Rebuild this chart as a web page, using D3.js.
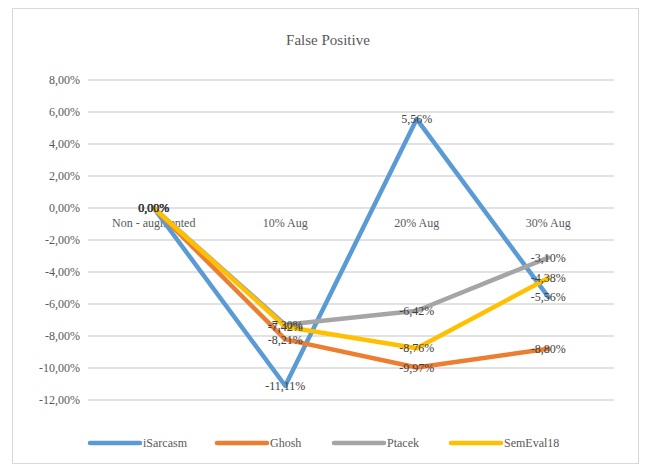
<!DOCTYPE html>
<html>
<head>
<meta charset="utf-8">
<script src="https://cdn.jsdelivr.net/npm/d3@7"></script>
<style>
  body { margin: 0; background: #fff; }
  svg text { font-family: "Times New Roman", "Liberation Serif", "DejaVu Serif", serif !important; }
</style>
</head>
<body>
<svg id="chart" width="646" height="470"></svg>
<script>
const categories = ["Non - augmented", "10% Aug", "20% Aug", "30% Aug"];
const seriesNames = ["iSarcasm", "Ghosh", "Ptacek", "SemEval18"];
const iSarcasm = [0, -11.11, 5.56, -5.56];
const ghosh = [0, -8.21, -9.97, -8.80];
const ptacek = [0, -7.30, -6.42, -3.10];
const semEval18 = [0, -7.42, -8.76, -4.38];
const yTicks = [8, 6, 4, 2, 0, -2, -4, -6, -8, -10, -12];
const colors = ["#5B9BD5", "#ED7D31", "#A5A5A5", "#FFC000"];

const series = [iSarcasm, ghosh, ptacek, semEval18].map((values, i) => ({
    name: seriesNames[i],
    color: colors[i],
    values: values
}));

const svg = d3.select('#chart');
const fmt = v => v.toFixed(2).replace('.', ',') + '%';

// outer frame
svg.append('rect')
    .attr('x', 12.5).attr('y', 8.5)
    .attr('width', 626).attr('height', 455)
    .attr('fill', '#fff')
    .attr('stroke', '#d9d9d9');

svg.append('text')
    .attr('x', 328).attr('y', 45)
    .attr('text-anchor', 'middle')
    .attr('font-size', '15px')
    .attr('fill', '#595959')
    .text('False Positive');

const margin = { left: 88, right: 614, top: 80, bottom: 400 };

const xScale = d3.scaleBand()
    .domain(categories)
    .range([margin.left, margin.right]);

const yScale = d3.scaleLinear()
    .domain([-12, 8])
    .range([margin.bottom, margin.top]);

// gridlines
svg.append('g')
    .selectAll('line')
    .data(yTicks)
    .enter()
    .append('line')
    .attr('x1', margin.left)
    .attr('x2', margin.right)
    .attr('y1', d => yScale(d))
    .attr('y2', d => yScale(d))
    .attr('stroke', '#d9d9d9')
    .attr('stroke-width', 1.5);

// y axis
const yAxis = svg.append('g')
    .attr('transform', `translate(${margin.left},0)`)
    .call(d3.axisLeft(yScale).tickValues(yTicks).tickSize(0).tickPadding(8).tickFormat(fmt));
yAxis.select('.domain').remove();
yAxis.selectAll('text')
    .attr('font-size', '12px')
    .attr('fill', '#595959');

// category labels sit on the zero line
const xAxis = svg.append('g')
    .attr('transform', `translate(0,${yScale(0)})`)
    .call(d3.axisBottom(xScale).tickSize(0).tickPadding(10));
xAxis.select('.domain').remove();
xAxis.selectAll('text')
    .attr('font-size', '12px')
    .attr('fill', '#595959');

const cx = c => xScale(c) + xScale.bandwidth() / 2;

const line = d3.line()
    .x((d, i) => cx(categories[i]))
    .y(d => yScale(d));

svg.append('g')
    .selectAll('path')
    .data(series)
    .enter()
    .append('path')
    .attr('d', d => line(d.values))
    .attr('fill', 'none')
    .attr('stroke', d => d.color)
    .attr('stroke-width', 4.5)
    .attr('stroke-linejoin', 'round')
    .attr('stroke-linecap', 'round');

// data labels, centred on points
const labels = [];
series.forEach(s => s.values.forEach((v, i) => labels.push({ v, c: categories[i] })));
svg.append('g')
    .selectAll('text')
    .data(labels)
    .enter()
    .append('text')
    .attr('x', d => cx(d.c))
    .attr('y', d => yScale(d.v))
    .attr('dy', '0.35em')
    .attr('text-anchor', 'middle')
    .attr('font-size', '12px')
    .attr('fill', '#404040')
    .text(d => fmt(d.v));

// legend
const legendX = [90, 217, 334, 451];
const legend = svg.append('g')
    .selectAll('g')
    .data(series)
    .enter()
    .append('g')
    .attr('transform', (d, i) => `translate(${legendX[i]},443)`);
legend.append('line')
    .attr('x1', 0).attr('x2', 50)
    .attr('stroke', d => d.color)
    .attr('stroke-width', 4.5)
    .attr('stroke-linecap', 'round');
legend.append('text')
    .attr('x', 53).attr('dy', '0.35em')
    .attr('font-size', '12px')
    .attr('fill', '#595959')
    .text(d => d.name);
</script>
</body>
</html>
